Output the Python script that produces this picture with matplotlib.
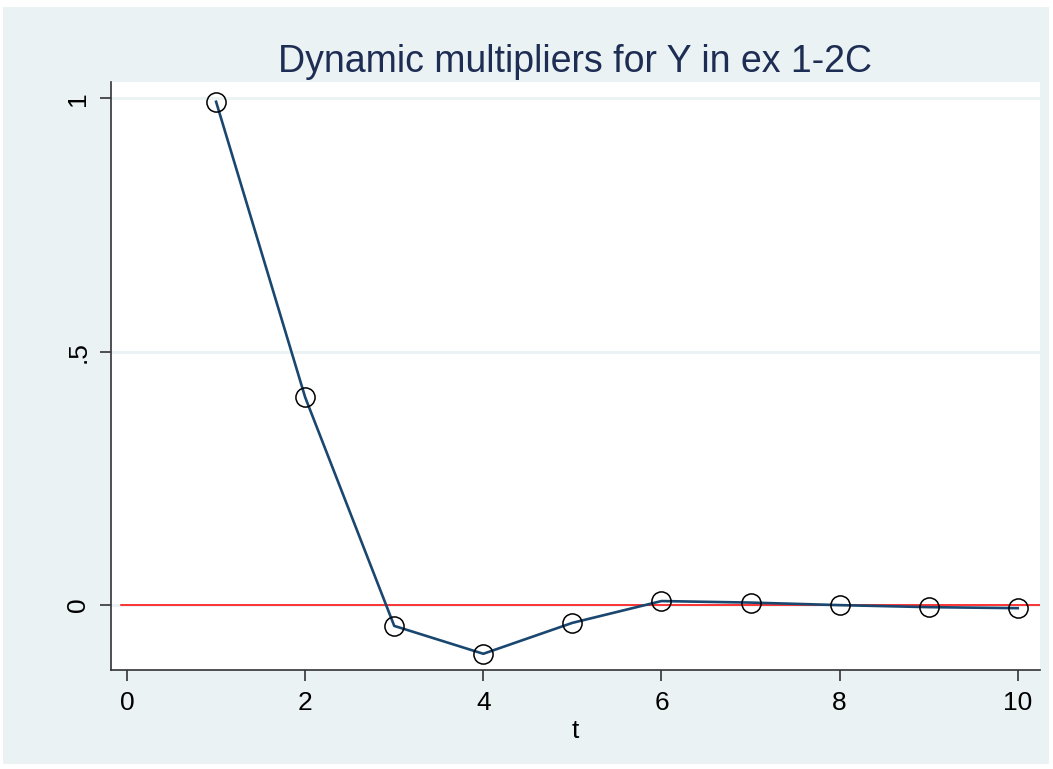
import numpy as np
import matplotlib.pyplot as plt
from matplotlib.patches import Rectangle

plt.rcParams['font.family'] = ['Liberation Sans', 'DejaVu Sans']

# Dynamic multipliers
t = [1, 2, 3, 4, 5, 6, 7, 8, 9, 10]
multiplier = [0.993, 0.41, -0.041, -0.096, -0.035, 0.008, 0.005, 0.0, -0.004, -0.006]
zero_line_x = [-0.07, 10.3]
zero_line_y = [0, 0]

x_ticks = [0, 2, 4, 6, 8, 10]
y_ticks = [0, 0.5, 1]
y_tick_labels = ["0", ".5", "1"]

W, H = 1053, 769
fig = plt.figure(figsize=(W / 100, H / 100), dpi=100, facecolor="white")

# Stata-style graph region, kept behind the axes
fig.patches.append(Rectangle((3 / W, 5 / H), 1046 / W, 757 / H, transform=fig.transFigure,
                             facecolor="#EAF2F3", edgecolor="none", zorder=-10))

ax = fig.add_axes([111 / W, 1 - 670 / H, (1040 - 111) / W, (670 - 82) / H])
ax.set_zorder(1)
ax.set_facecolor("white")

ax.set_xlim(-0.18, 10.25)
ax.set_ylim(-0.128, 1.032)

for y in y_ticks:
    ax.axhline(y, color="#EAF2F3", linewidth=2, zorder=1)

ax.plot(zero_line_x, zero_line_y, color="red", linewidth=1.1, zorder=2)
ax.plot(t, multiplier, color="#1A476F", linewidth=1.9, zorder=3)
ax.plot(t, multiplier, linestyle="none", marker="o", markersize=13.8,
        markerfacecolor="none", markeredgecolor="black", markeredgewidth=1.1, zorder=4)

ax.set_xticks(x_ticks)
ax.set_yticks(y_ticks)
ax.set_yticklabels(y_tick_labels, rotation=90, va="center")
ax.tick_params(axis="both", direction="out", length=8, width=1.2, color="#333333",
               labelsize=19, labelcolor="black", pad=7)

for side in ["top", "right"]:
    ax.spines[side].set_visible(False)
for side in ["left", "bottom"]:
    ax.spines[side].set_color("#333333")
    ax.spines[side].set_linewidth(1.2)

ax.set_xlabel("t", fontsize=19, labelpad=3)
ax.set_title("Dynamic multipliers for Y in ex 1-2C", fontsize=27, color="#1E2D53", pad=7)

fig.savefig("out.png", dpi=100, facecolor="white")
